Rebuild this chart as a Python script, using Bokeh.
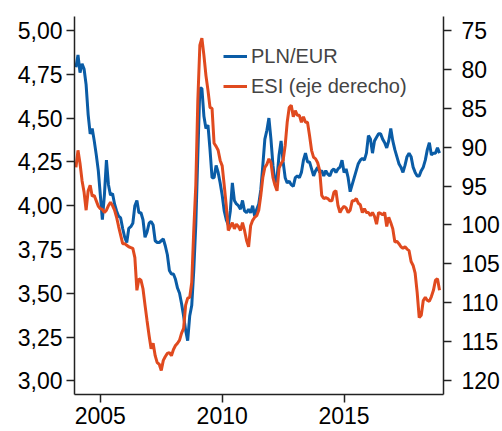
import numpy as np
from bokeh.plotting import figure
from bokeh.models import (Range1d, LinearAxis, FixedTicker, CustomJSTickFormatter,
                          Legend, LegendItem)
from bokeh.embed import file_html
from bokeh.resources import INLINE

# Monthly data, Jan 2004 - Dec 2018
start_year = 2004
pln_eur = [
    4.79, 4.86, 4.76, 4.81, 4.78, 4.69, 4.52, 4.41, 4.44, 4.37, 4.29, 4.20,
    4.06, 3.92, 4.06, 4.26, 4.12, 4.06, 4.07, 4.01, 3.97, 3.94, 3.93, 3.87,
    3.82, 3.79, 3.87, 3.88, 3.90, 4.00, 4.03, 3.96, 3.96, 3.92, 3.82, 3.85,
    3.90, 3.91, 3.89, 3.80, 3.79, 3.79, 3.80, 3.81, 3.77, 3.72, 3.63, 3.61,
    3.61, 3.58, 3.53, 3.50, 3.44, 3.37, 3.29, 3.23, 3.37, 3.43, 3.63, 3.89,
    4.29, 4.67, 4.67, 4.51, 4.44, 4.46, 4.32, 4.16, 4.16, 4.23, 4.19, 4.13,
    4.06, 3.97, 3.92, 3.89, 3.97, 4.13, 4.03, 4.01, 4.00, 3.98, 4.03, 3.97,
    3.96, 3.98, 3.96, 4.00, 3.94, 3.98, 4.01, 4.09, 4.23, 4.38, 4.43, 4.50,
    4.38, 4.23, 4.13, 4.16, 4.29, 4.37, 4.25, 4.16, 4.13, 4.14, 4.12, 4.11,
    4.16, 4.17, 4.16, 4.19, 4.26, 4.30, 4.25, 4.25, 4.21, 4.17, 4.20, 4.22,
    4.19, 4.20, 4.17, 4.20, 4.18, 4.17, 4.20, 4.21, 4.19, 4.21, 4.22, 4.26,
    4.19, 4.21, 4.16, 4.08, 4.12, 4.16, 4.20, 4.24, 4.26, 4.27, 4.26, 4.30,
    4.40, 4.38, 4.30, 4.37, 4.39, 4.41, 4.41, 4.38, 4.36, 4.33, 4.37, 4.44,
    4.37, 4.32, 4.28, 4.24, 4.22, 4.19, 4.23, 4.28, 4.30, 4.28, 4.22, 4.19,
    4.17, 4.17, 4.20, 4.22, 4.26, 4.32, 4.36, 4.29, 4.30, 4.30, 4.33, 4.30,
]
esi = [
    92.6, 90.4, 92.1, 94.3, 95.8, 98.1, 95.6, 94.9, 96.3, 96.2, 96.9, 97.6,
    97.9, 98.0, 98.4, 98.1, 97.5, 97.1, 97.5, 98.1, 99.0, 100.2, 101.3, 102.4,
    102.4, 102.6, 102.8, 102.9, 103.0, 104.2, 108.4, 106.9, 107.1, 108.2, 110.3, 112.3,
    114.2, 115.9, 115.2, 116.8, 117.7, 117.9, 118.7, 117.4, 116.9, 116.5, 116.4, 116.8,
    116.0, 115.5, 115.2, 114.8, 113.9, 113.3, 110.3, 109.4, 109.3, 107.4, 100.7, 94.9,
    84.0, 76.9, 76.0, 78.2, 80.8, 82.7, 84.9, 85.0, 89.5, 89.9, 90.4, 91.7,
    92.4, 94.9, 97.5, 100.7, 100.2, 99.7, 100.5, 99.9, 100.2, 100.7, 99.7, 100.7,
    102.0, 102.8, 100.1, 99.4, 99.0, 98.8, 98.1, 96.2, 93.9, 92.6, 92.2, 91.5,
    92.0, 93.9, 94.9, 95.6, 92.7, 92.1, 91.7, 89.8, 86.8, 84.9, 84.6, 86.1,
    85.3, 85.9, 85.9, 86.8, 86.1, 86.8, 86.8, 88.5, 90.4, 91.3, 91.5, 92.0,
    93.0, 96.2, 96.6, 96.5, 96.6, 96.9, 96.9, 95.8, 95.6, 97.5, 98.4, 97.9,
    97.6, 97.8, 98.4, 98.1, 96.9, 96.9, 96.6, 97.2, 97.4, 98.4, 97.9, 98.4,
    98.4, 98.8, 98.4, 98.9, 99.9, 98.4, 98.5, 98.7, 98.4, 100.2, 99.0, 99.7,
    100.5, 102.2, 102.1, 102.4, 102.8, 103.0, 102.8, 103.1, 103.3, 104.7, 105.2, 106.2,
    108.7, 111.9, 111.6, 109.7, 109.3, 109.7, 109.8, 109.2, 108.4, 107.1, 106.9, 108.4,
]
x_ticks = [2005, 2010, 2015]
left_ticks = [3.00, 3.25, 3.50, 3.75, 4.00, 4.25, 4.50, 4.75, 5.00]
right_ticks = [75, 80, 85, 90, 95, 100, 105, 110, 115, 120]
names = ["PLN/EUR", "ESI (eje derecho)"]

t = start_year + np.arange(len(pln_eur)) / 12.0

BLUE = "#0a5ca6"
RED = "#e04a1f"
FONT = "Liberation Sans"
TICK_FS = "23px"
LEG_FS = "20px"

p = figure(width=502, height=431, output_backend="svg", toolbar_location=None,
           x_range=Range1d(2003.94, 2019.08), y_range=Range1d(2.9224, 5.0799),
           min_border_left=74, min_border_right=57, min_border_top=16, min_border_bottom=37)
p.outline_line_color = None
p.grid.visible = False
p.background_fill_color = "white"
p.border_fill_color = "white"

p.extra_y_ranges = {"esi": Range1d(121.79, 73.2)}

r1 = p.line(t, pln_eur, line_color=BLUE, line_width=3)
r2 = p.line(t, esi, line_color=RED, line_width=3, y_range_name="esi")

def style(ax):
    ax.axis_line_color = "#222222"
    ax.axis_line_width = 1.5
    ax.major_tick_line_color = "#222222"
    ax.major_tick_line_width = 1.5
    ax.major_tick_in = 0
    ax.major_tick_out = 8
    ax.minor_tick_line_color = None
    ax.major_label_text_font = FONT
    ax.major_label_text_font_size = TICK_FS
    ax.major_label_text_color = "black"

p.xaxis.ticker = FixedTicker(ticks=x_ticks)
p.xaxis.formatter = CustomJSTickFormatter(code="return tick.toFixed(0);")
style(p.xaxis[0])
p.xaxis.major_label_standoff = 4

p.yaxis.ticker = FixedTicker(ticks=left_ticks)
p.yaxis.formatter = CustomJSTickFormatter(code="return tick.toFixed(2).replace('.', ',');")
style(p.yaxis[0])
p.yaxis.major_label_standoff = 4

ax2 = LinearAxis(y_range_name="esi", ticker=FixedTicker(ticks=right_ticks))
style(ax2)
ax2.major_label_standoff = 10
p.add_layout(ax2, "right")

legend = Legend(items=[LegendItem(label=names[0], renderers=[r1]),
                       LegendItem(label=names[1], renderers=[r2])],
                location=(149, 293))
legend.border_line_color = None
legend.background_fill_alpha = 0
legend.padding = 0
legend.margin = 0
legend.spacing = 0
legend.glyph_width = 24
legend.glyph_height = 30
legend.label_standoff = 4
legend.label_text_font = FONT
legend.label_text_font_size = LEG_FS
legend.label_height = 30
p.add_layout(legend, "center")

open("out.html", "w").write(file_html(p, INLINE))
